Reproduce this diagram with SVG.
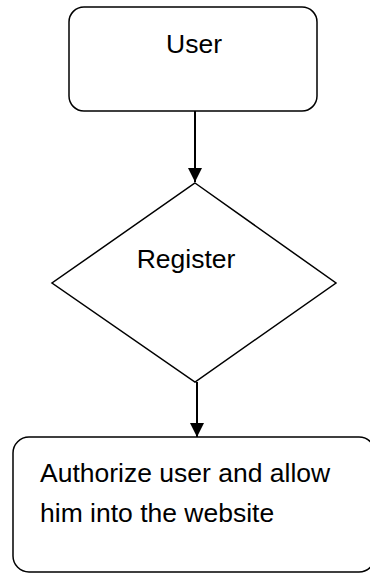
<svg xmlns="http://www.w3.org/2000/svg" width="370" height="573" viewBox="0 0 370 573">
<style>
.shape{fill:#fff;stroke:#000;stroke-width:1.5}
.lbl{font-family:"Liberation Sans",Arial,sans-serif;font-size:26.5px;fill:#000}
.conn{stroke:#000;stroke-width:2;fill:none}
</style>
<defs>
<marker id="arr" viewBox="0 0 10 10" refX="10" refY="5" markerWidth="7" markerHeight="7" orient="auto" markerUnits="strokeWidth">
<path d="M0,0 L10,5 L0,10 z" fill="#000"/>
</marker>
</defs>
<rect width="370" height="573" fill="#fff"/>
<g id="connectors">
<line class="conn" x1="195" y1="111" x2="195" y2="182" marker-end="url(#arr)"/>
<line class="conn" x1="197" y1="382" x2="197" y2="437" marker-end="url(#arr)"/>
</g>
<g id="user">
<rect class="shape" x="69" y="7" width="248" height="104" rx="15"/>
<text class="lbl" x="194" y="53" text-anchor="middle">User</text>
</g>
<g id="register">
<polygon class="shape" points="195,183 336,283 195,382 52,283"/>
<text class="lbl" x="186" y="268" text-anchor="middle">Register</text>
</g>
<g id="authorize">
<rect class="shape" x="13" y="437" width="362" height="135" rx="16"/>
<text class="lbl" x="40" y="482">Authorize user and allow</text>
<text class="lbl" x="40" y="522">him into the website</text>
</g>
</svg>
